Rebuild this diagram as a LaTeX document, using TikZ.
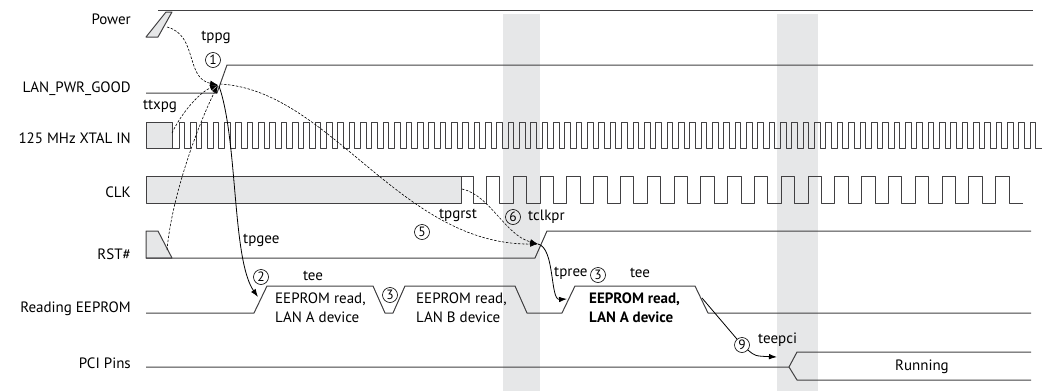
\documentclass[tikz,border=0pt]{standalone}
\usepackage{fontspec}
\setmainfont{PT Sans}
\usetikzlibrary{arrows.meta}
\definecolor{bandgray}{HTML}{E6E7E8}
\definecolor{sig}{HTML}{414042}
\begin{document}
\begin{tikzpicture}[x=1pt, y=-1pt,
    font=\fontsize{15}{18}\selectfont,
    wave/.style={draw=sig, line width=1pt, line join=round},
    signame/.style={anchor=east, inner sep=0pt},
    num/.style={circle, draw=black, line width=0.6pt, inner sep=0pt, minimum size=15pt, font=\fontsize{13.5}{13.5}\selectfont},
    dep/.style={-{Latex[length=8pt,width=5.5pt]}, line width=0.6pt, dash pattern=on 2.5pt off 1.5pt},
    sol/.style={-{Latex[length=8pt,width=5.5pt]}, line width=0.8pt},
    readtxt/.style={anchor=west, align=left, inner sep=0pt, font=\fontsize{15}{19}\selectfont}]
  \useasboundingbox (0,0) rectangle (1045,391);
  % Gray bands
  \fill[bandgray] (503,14) rectangle (540,391);
  \fill[bandgray] (777,14) rectangle (818,391);
  % Signal names
  \node[signame] (power) at (131,19) {Power};
  \node[signame] (lan) at (131,89) {LAN\_PWR\_GOOD};
  \node[signame] (xtal) at (131,138) {125 MHz XTAL IN};
  \node[signame] (clk) at (131,192) {CLK};
  \node[signame] (rst) at (131,254) {RST\#};
  \node[signame] (eeprom) at (131,309) {Reading EEPROM};
  \node[signame] (pci) at (131,363) {PCI Pins};
  % Power
  \filldraw[wave, fill=bandgray] (146,37) -- (158,37) -- (172,12) -- (166,12) -- cycle;
  \draw[wave] (158,10) -- (1033,10);
  % LAN_PWR_GOOD
  \draw[wave] (146,93) -- (217,93) -- (227,65) -- (1033,65);
  % 125 MHz XTAL IN
  \filldraw[wave, fill=bandgray] (146,122) rectangle (172,148);
  \draw[wave] (172,148) foreach \k in {0,...,75} { -- ({179+11.35*\k},148) -- ++(0,-26) -- ++(5.67,0) -- ++(0,26) } -- (1042,148);
  % CLK
  \filldraw[wave, fill=bandgray] (146,176) rectangle (461,203);
  \draw[wave] (461,176) -- (473,176) foreach \k in {0,...,19} { -- ++(0,27) -- ++(13.4,0) -- ++(0,-27) -- ++(13.4,0) } -- ++(0,27) -- (1023,203);
  % RST#
  \filldraw[wave, fill=bandgray] (146,258) -- (146,231) -- (158,231) -- (172,258) -- cycle;
  \draw[wave] (146,258) -- (535,258) -- (547,231) -- (1031,231);
  % Reading EEPROM
  \draw[wave] (146,313) -- (254,313) -- (267,286) -- (373,286) -- (385,313) -- (393,313) -- (405,286)
    -- (515,286) -- (527,313) -- (562,313) -- (575,286) -- (695,286) -- (708,313) -- (1031,313);
  \node[readtxt] (reada) at (275,308) {EEPROM read,\\LAN A device};
  \node[readtxt] (readb) at (416,308) {EEPROM read,\\LAN B device};
  \node[readtxt, font=\fontsize{15}{19}\selectfont\bfseries] (reada2) at (589,308) {EEPROM read,\\LAN A device};
  % PCI Pins
  \draw[wave] (146,367) -- (789,367) -- (797,352) -- (1031,352);
  \draw[wave] (789,367) -- (797,380) -- (1031,380);
  \node (running) at (922,367) {Running};
  % Timing labels
  \node (tppg) at (216,37) {tppg};
  \node[num] (n1) at (213,60) {1};
  \node (ttxpg) at (160,106) {ttxpg};
  \node[anchor=west, inner sep=0pt] (tpgee) at (243,240) {tpgee};
  \node[num] (n2) at (261,277) {2};
  \node (tee1) at (313,276) {tee};
  \node[num] (n3) at (390,295) {3};
  \node (tpgrst) at (458,215) {tpgrst};
  \node[num] (n5) at (422,232) {5};
  \node[num] (n6) at (513,217) {6};
  \node[anchor=west, inner sep=0pt] (tclkpr) at (528,217) {tclkpr};
  \node[anchor=west, inner sep=0pt] (tpree) at (554,273) {tpree};
  \node[num] (n3b) at (598,275) {3};
  \node (tee2) at (640,273) {tee};
  \node[num] (n9) at (742,345) {9};
  \node[anchor=west, inner sep=0pt] (teepci) at (758,340) {teepci};
  % Connections
  \coordinate (pg) at (218,85);
  \coordinate (rs) at (538,244);
  \coordinate (pwr) at (167,27);
  \coordinate (xt) at (172,133);
  \coordinate (rsl) at (167,250);
  \coordinate (ck) at (462,189);
  \coordinate (ee1) at (258,297);
  \coordinate (ee2) at (567,299);
  \coordinate (ee3) at (702,298);
  \coordinate (pc) at (777,357);
  \draw[dep] (pwr) .. controls (198,35) and (185,78) .. (pg);
  \draw[dep] (xt) .. controls (182,112) and (200,92) .. (pg);
  \draw[dep] (rsl) .. controls (172,195) and (198,125) .. (pg);
  \draw[dep] (220,84) .. controls (330,90) and (400,245) .. (rs);
  \draw[dep] (ck) .. controls (490,195) and (505,235) .. (rs);
  \draw[sol] (219,86) .. controls (238,140) and (232,260) .. (ee1);
  \draw[sol] (rs) .. controls (555,248) and (550,300) .. (ee2);
  \draw[sol] (ee3) -- (n9) .. controls (755,356) .. (pc);
\end{tikzpicture}
\end{document}
